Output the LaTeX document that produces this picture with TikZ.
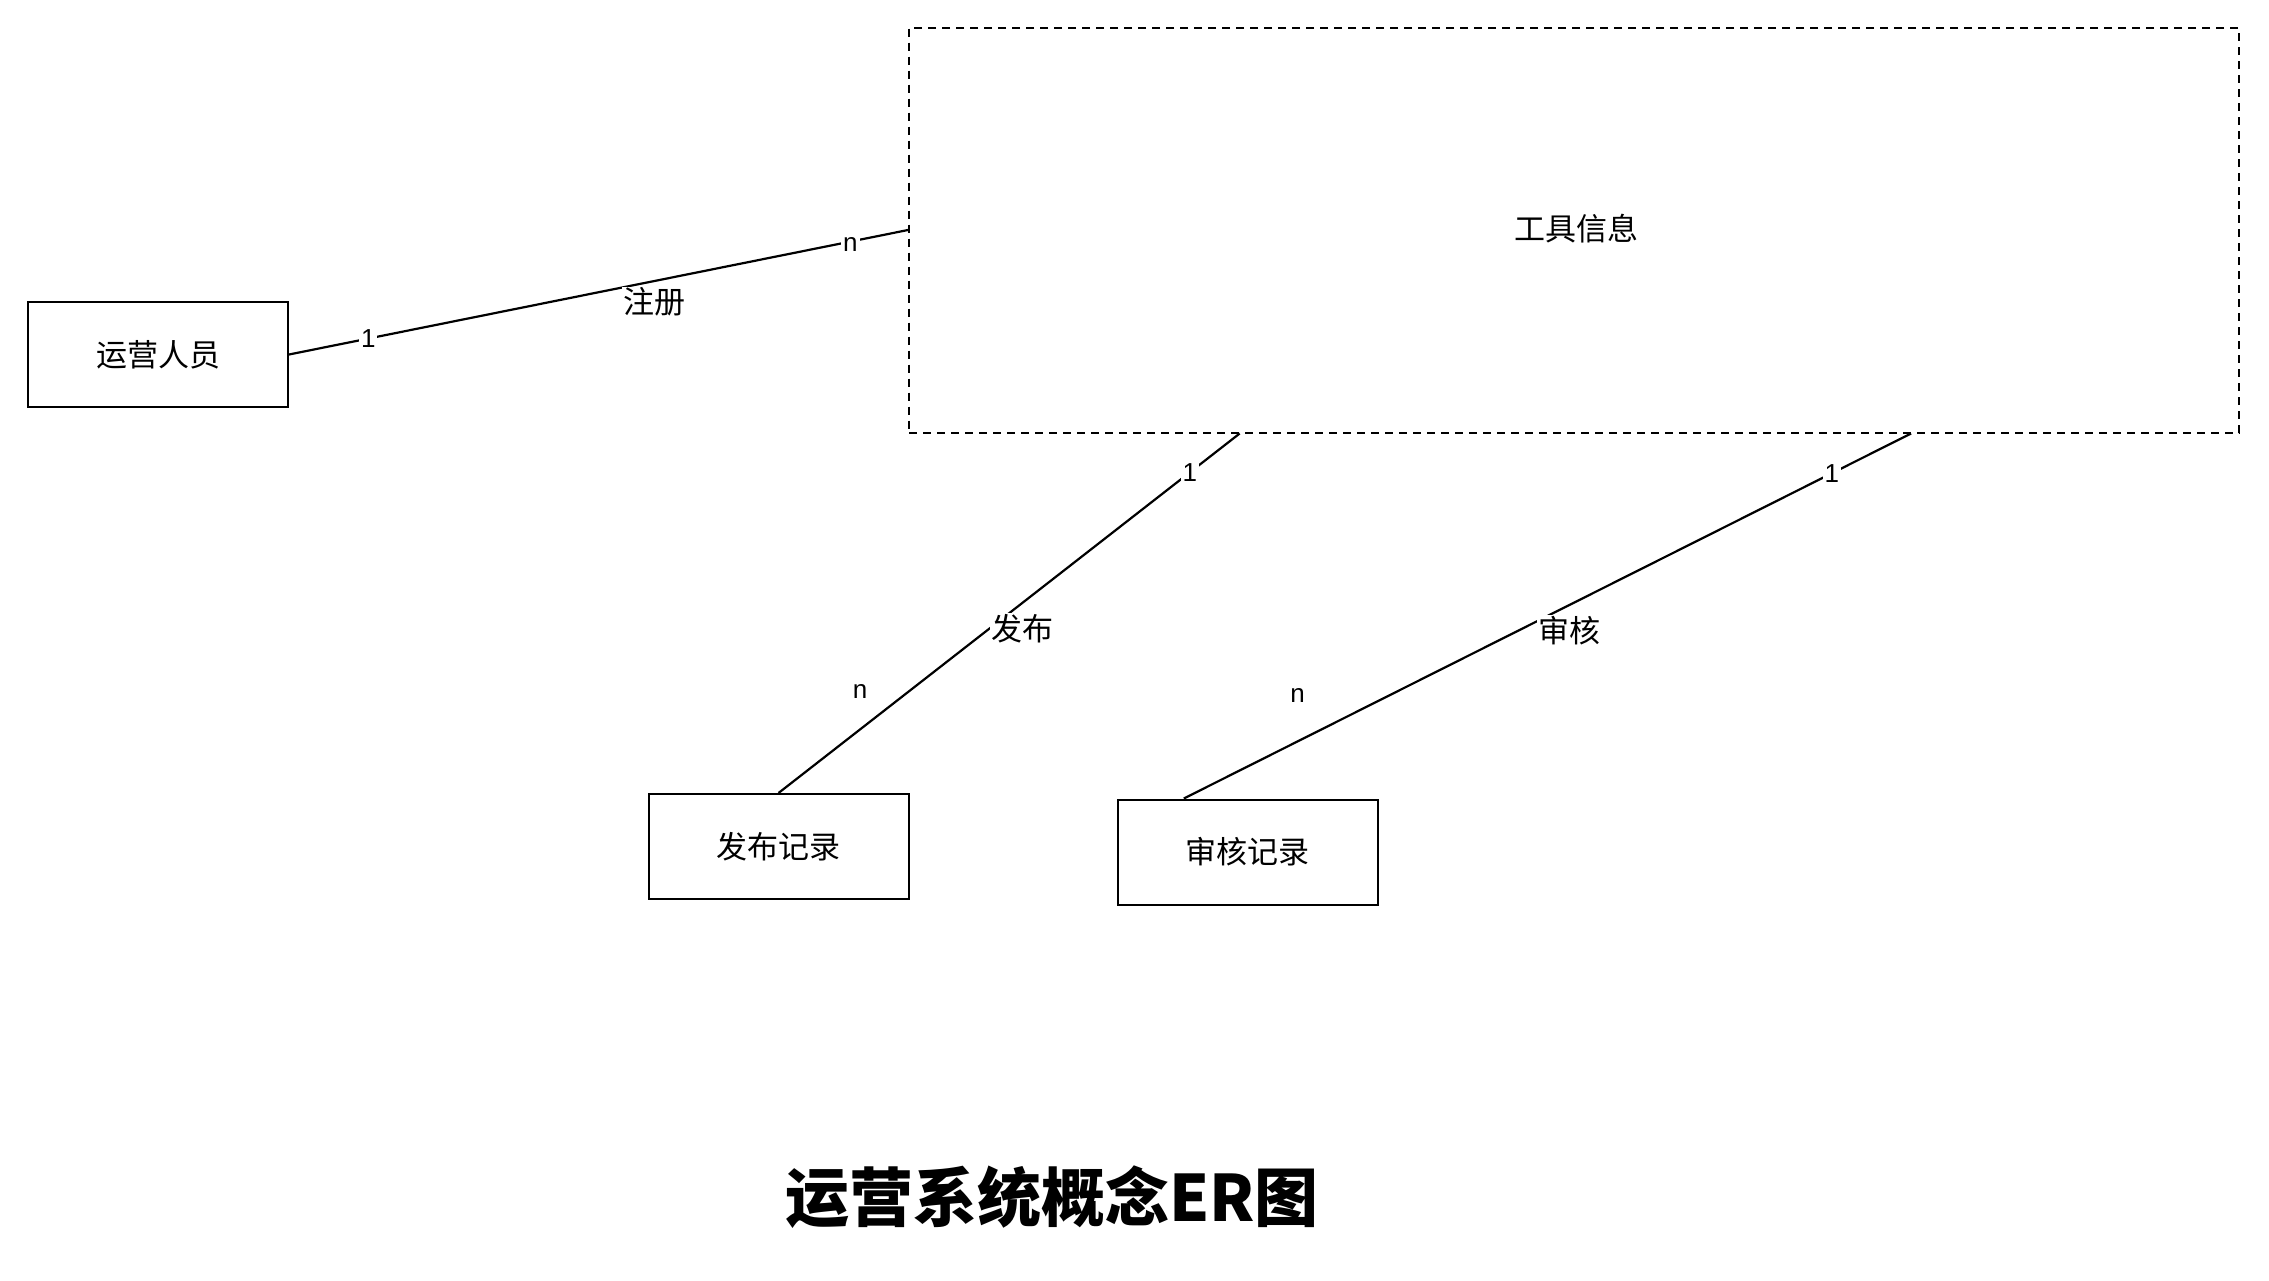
\documentclass[tikz,border=0pt]{standalone}
\usepackage{fontspec}
\setmainfont{Noto Sans CJK SC}
\newfontfamily\cardfont{Liberation Sans}
\usetikzlibrary{calc}
\begin{document}
\begin{tikzpicture}[x=1pt,y=-1pt,
  entity/.style={draw=black, line width=2pt, minimum width=260pt, minimum height=105pt,
    inner sep=0pt, font=\fontsize{31}{36}\selectfont},
  group/.style={draw=black, line width=2pt, dash pattern=on 8pt off 6pt,
    minimum width=1330pt, minimum height=405pt, inner sep=0pt, font=\fontsize{31}{36}\selectfont},
  link/.style={line width=2.2pt, black},
  card/.style={fill=white, inner sep=2pt, font=\cardfont\fontsize{26}{30}\selectfont},
  cardfree/.style={inner sep=0pt, font=\cardfont\fontsize{26}{30}\selectfont},
  rel/.style={fill=white, inner sep=1pt, font=\fontsize{31}{36}\selectfont}]
\useasboundingbox[fill=white] (0,0) rectangle (2269,1280);

% entities
\node[group] (tool) at (1574,230) {};
\node[font=\fontsize{31}{36}\selectfont] (toolname) at (1576,229) {工具信息};
\node[entity] (staff) at (158,354.5) {运营人员};
\node[entity] (pub) at (778.5,846.5) {发布记录};
\node[entity] (audit) at (1247.5,852) {审核记录};

% attachment points on the dashed box and the lower entity
\coordinate (toolPub) at ($(tool.south west)!0.249!(tool.south east)$);
\coordinate (toolAudit) at ($(tool.south west)!0.753!(tool.south east)$);
\coordinate (auditTop) at ($(audit.north west)!0.257!(audit.north east)$);

% 注册: 运营人员 1 -- n 工具信息
\draw[link] (staff.east) -- (tool.west)
  node[card, pos=0.128] (c1) {1}
  node[card, pos=0.907, yshift=-3pt] (c2) {n}
  node[rel, pos=0.59, yshift=-21pt] (r1) {注册};

% 发布: 工具信息 1 -- n 发布记录
\draw[link] (pub.north) -- (toolPub)
  node[card, pos=0.892] (c3) {1}
  node[rel, pos=0.457, anchor=west] (r2) {发布}
  node[cardfree, pos=0.283, xshift=-49pt] (c4) {n};

% 审核: 工具信息 1 -- n 审核记录
\draw[link] (auditTop) -- (toolAudit)
  node[card, pos=0.891] (c5) {1}
  node[rel, pos=0.46, anchor=west, xshift=18pt] (r3) {审核}
  node[cardfree, pos=0.283, xshift=-92pt] (c6) {n};

% title
\node[font=\fontsize{64}{72}\selectfont\bfseries] (title) at (1052,1197) {运营系统概念ER图};
\end{tikzpicture}
\end{document}
